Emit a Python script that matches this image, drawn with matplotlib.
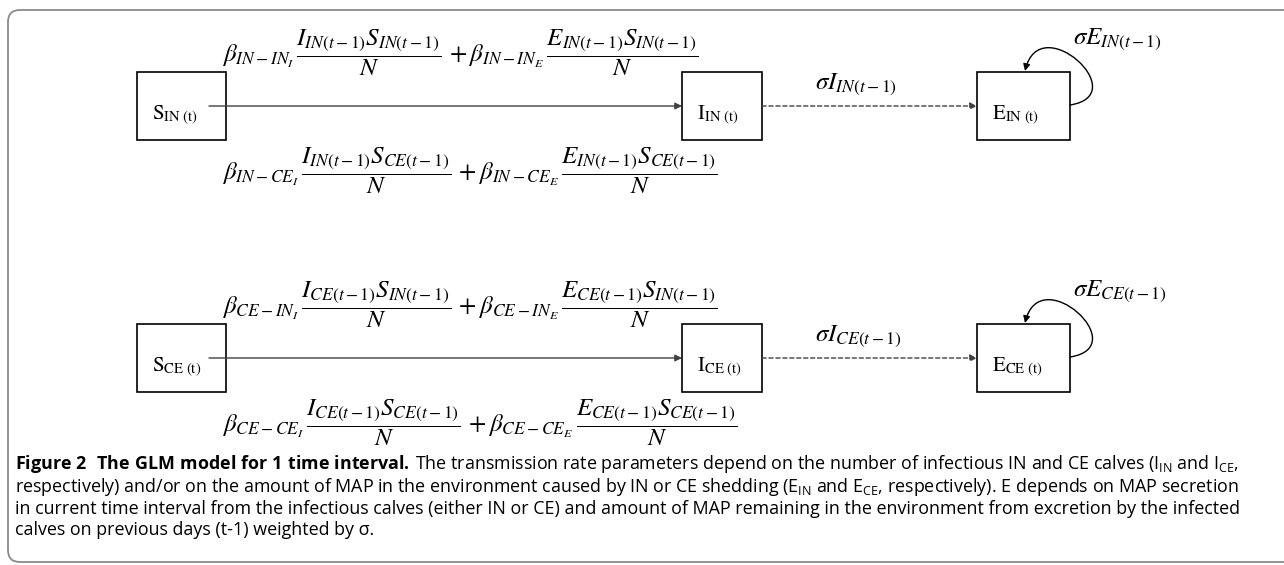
import matplotlib
matplotlib.use("Agg")
import matplotlib.pyplot as plt
from matplotlib.patches import FancyBboxPatch, Rectangle, FancyArrowPatch
from matplotlib.path import Path

plt.rcParams['mathtext.fontset'] = 'custom'
plt.rcParams['mathtext.rm'] = 'Open Sans'
plt.rcParams['mathtext.bf'] = 'Open Sans:bold'
plt.rcParams['mathtext.it'] = 'Open Sans:italic'

# diagram content
groups = ["IN", "CE"]
compartments = ["S", "I", "E"]
caption_title = r"Figure\ 2\ \ The\ GLM\ model\ for\ 1\ time\ interval."
caption_lines = [
    r"The transmission rate parameters depend on the number of infectious IN and CE calves (I$_{\mathrm{IN}}$ and I$_{\mathrm{CE}}$,",
    r"respectively) and/or on the amount of MAP in the environment caused by IN or CE shedding (E$_{\mathrm{IN}}$ and E$_{\mathrm{CE}}$, respectively). E depends on MAP secretion",
    r"in current time interval from the infectious calves (either IN or CE) and amount of MAP remaining in the environment from excretion by the infected",
    r"calves on previous days (t-1) weighted by σ.",
]


def rate(src, dst):
    return (r"$\beta_{%s-%s_I}\,\dfrac{I_{%s(t-1)}S_{%s(t-1)}}{N}\,+\beta_{%s-%s_E}\,\dfrac{E_{%s(t-1)}S_{%s(t-1)}}{N}$"
            % (src, dst, src, dst, src, dst, src, dst))


# layout (pixels)
box_x = {"S": (137, 226), "I": (682, 762), "E": (977, 1070)}
row_top = {"IN": 72, "CE": 324}
box_h = 68
line_col = "#404040"

fig = plt.figure(figsize=(12.84, 5.65), dpi=100)
ax = fig.add_axes([0, 0, 1, 1])
ax.set_xlim(0, 1284)
ax.set_ylim(565, 0)
ax.axis("off")

ax.add_patch(FancyBboxPatch((8, 10), 1320, 552, boxstyle="round,pad=0,rounding_size=12",
                            fc="none", ec="#8a8a8a", lw=1.3))

for g in groups:
    top = row_top[g]
    yc = top + box_h / 2
    for c in compartments:
        x0, x1 = box_x[c]
        ax.add_patch(Rectangle((x0, top), x1 - x0, box_h, fc="white", ec="black", lw=1.2))
        ax.text(x0 + 15, yc + 9, r"$\mathrm{%s}_{\mathrm{%s\ (t)}}$" % (c, g), math_fontfamily="stix",
                fontsize=15, ha="left", va="center")
    # S -> I
    ax.annotate("", xy=(box_x["I"][0], yc), xytext=(209, yc),
                arrowprops=dict(arrowstyle="-|>", color=line_col, lw=1, mutation_scale=10,
                                shrinkA=0, shrinkB=0))
    # I -> E dashed
    ax.annotate("", xy=(box_x["E"][0], yc), xytext=(box_x["I"][1], yc),
                arrowprops=dict(arrowstyle="-|>", color=line_col, lw=1, mutation_scale=10,
                                shrinkA=0, shrinkB=0, linestyle=(0, (3, 2))))
    # self loop on E
    verts = [(1070, top + 33), (1135, top + 23), (1040, top - 64), (1025, top - 1)]
    loop = FancyArrowPatch(path=Path(verts, [Path.MOVETO, Path.CURVE4, Path.CURVE4, Path.CURVE4]),
                           arrowstyle="-|>", color="black", lw=1, mutation_scale=10)
    ax.add_patch(loop)
    # rates
    ax.text(222, top - 19, rate(g, "IN"), math_fontfamily="stix", fontsize=18, ha="left", va="center")
    ax.text(222, top + 99, rate(g, "CE"), math_fontfamily="stix", fontsize=18, ha="left", va="center")
    ax.text(815, top + 12, r"$\sigma I_{%s(t-1)}$" % g, math_fontfamily="stix", fontsize=18,
            ha="left", va="center")
    ax.text(1073, top - 33, r"$\sigma E_{%s(t-1)}$" % g, math_fontfamily="stix", fontsize=18,
            ha="left", va="center")

# caption
cap_y = [464, 487, 509, 530]
cap_size = 11
title = ax.text(15, cap_y[0], r"$\mathbf{%s}$" % caption_title, fontfamily="Open Sans",
                fontsize=cap_size, ha="left", va="center")
cap = [ax.text(15, y, line, fontfamily="Open Sans", fontsize=cap_size, ha="left", va="center")
       for y, line in zip(cap_y, caption_lines)]

# fit caption width to the reference (third line ends near x=1247)
r = fig.canvas.get_renderer()
bb = cap[2].get_window_extent(r)
scale = (1247 - 15) / bb.width
for t in [title] + cap:
    t.set_fontsize(cap_size * scale)
tb = title.get_window_extent(r)
cap[0].set_x(15 + tb.width + 5)

fig.savefig("out.png", dpi=100)
